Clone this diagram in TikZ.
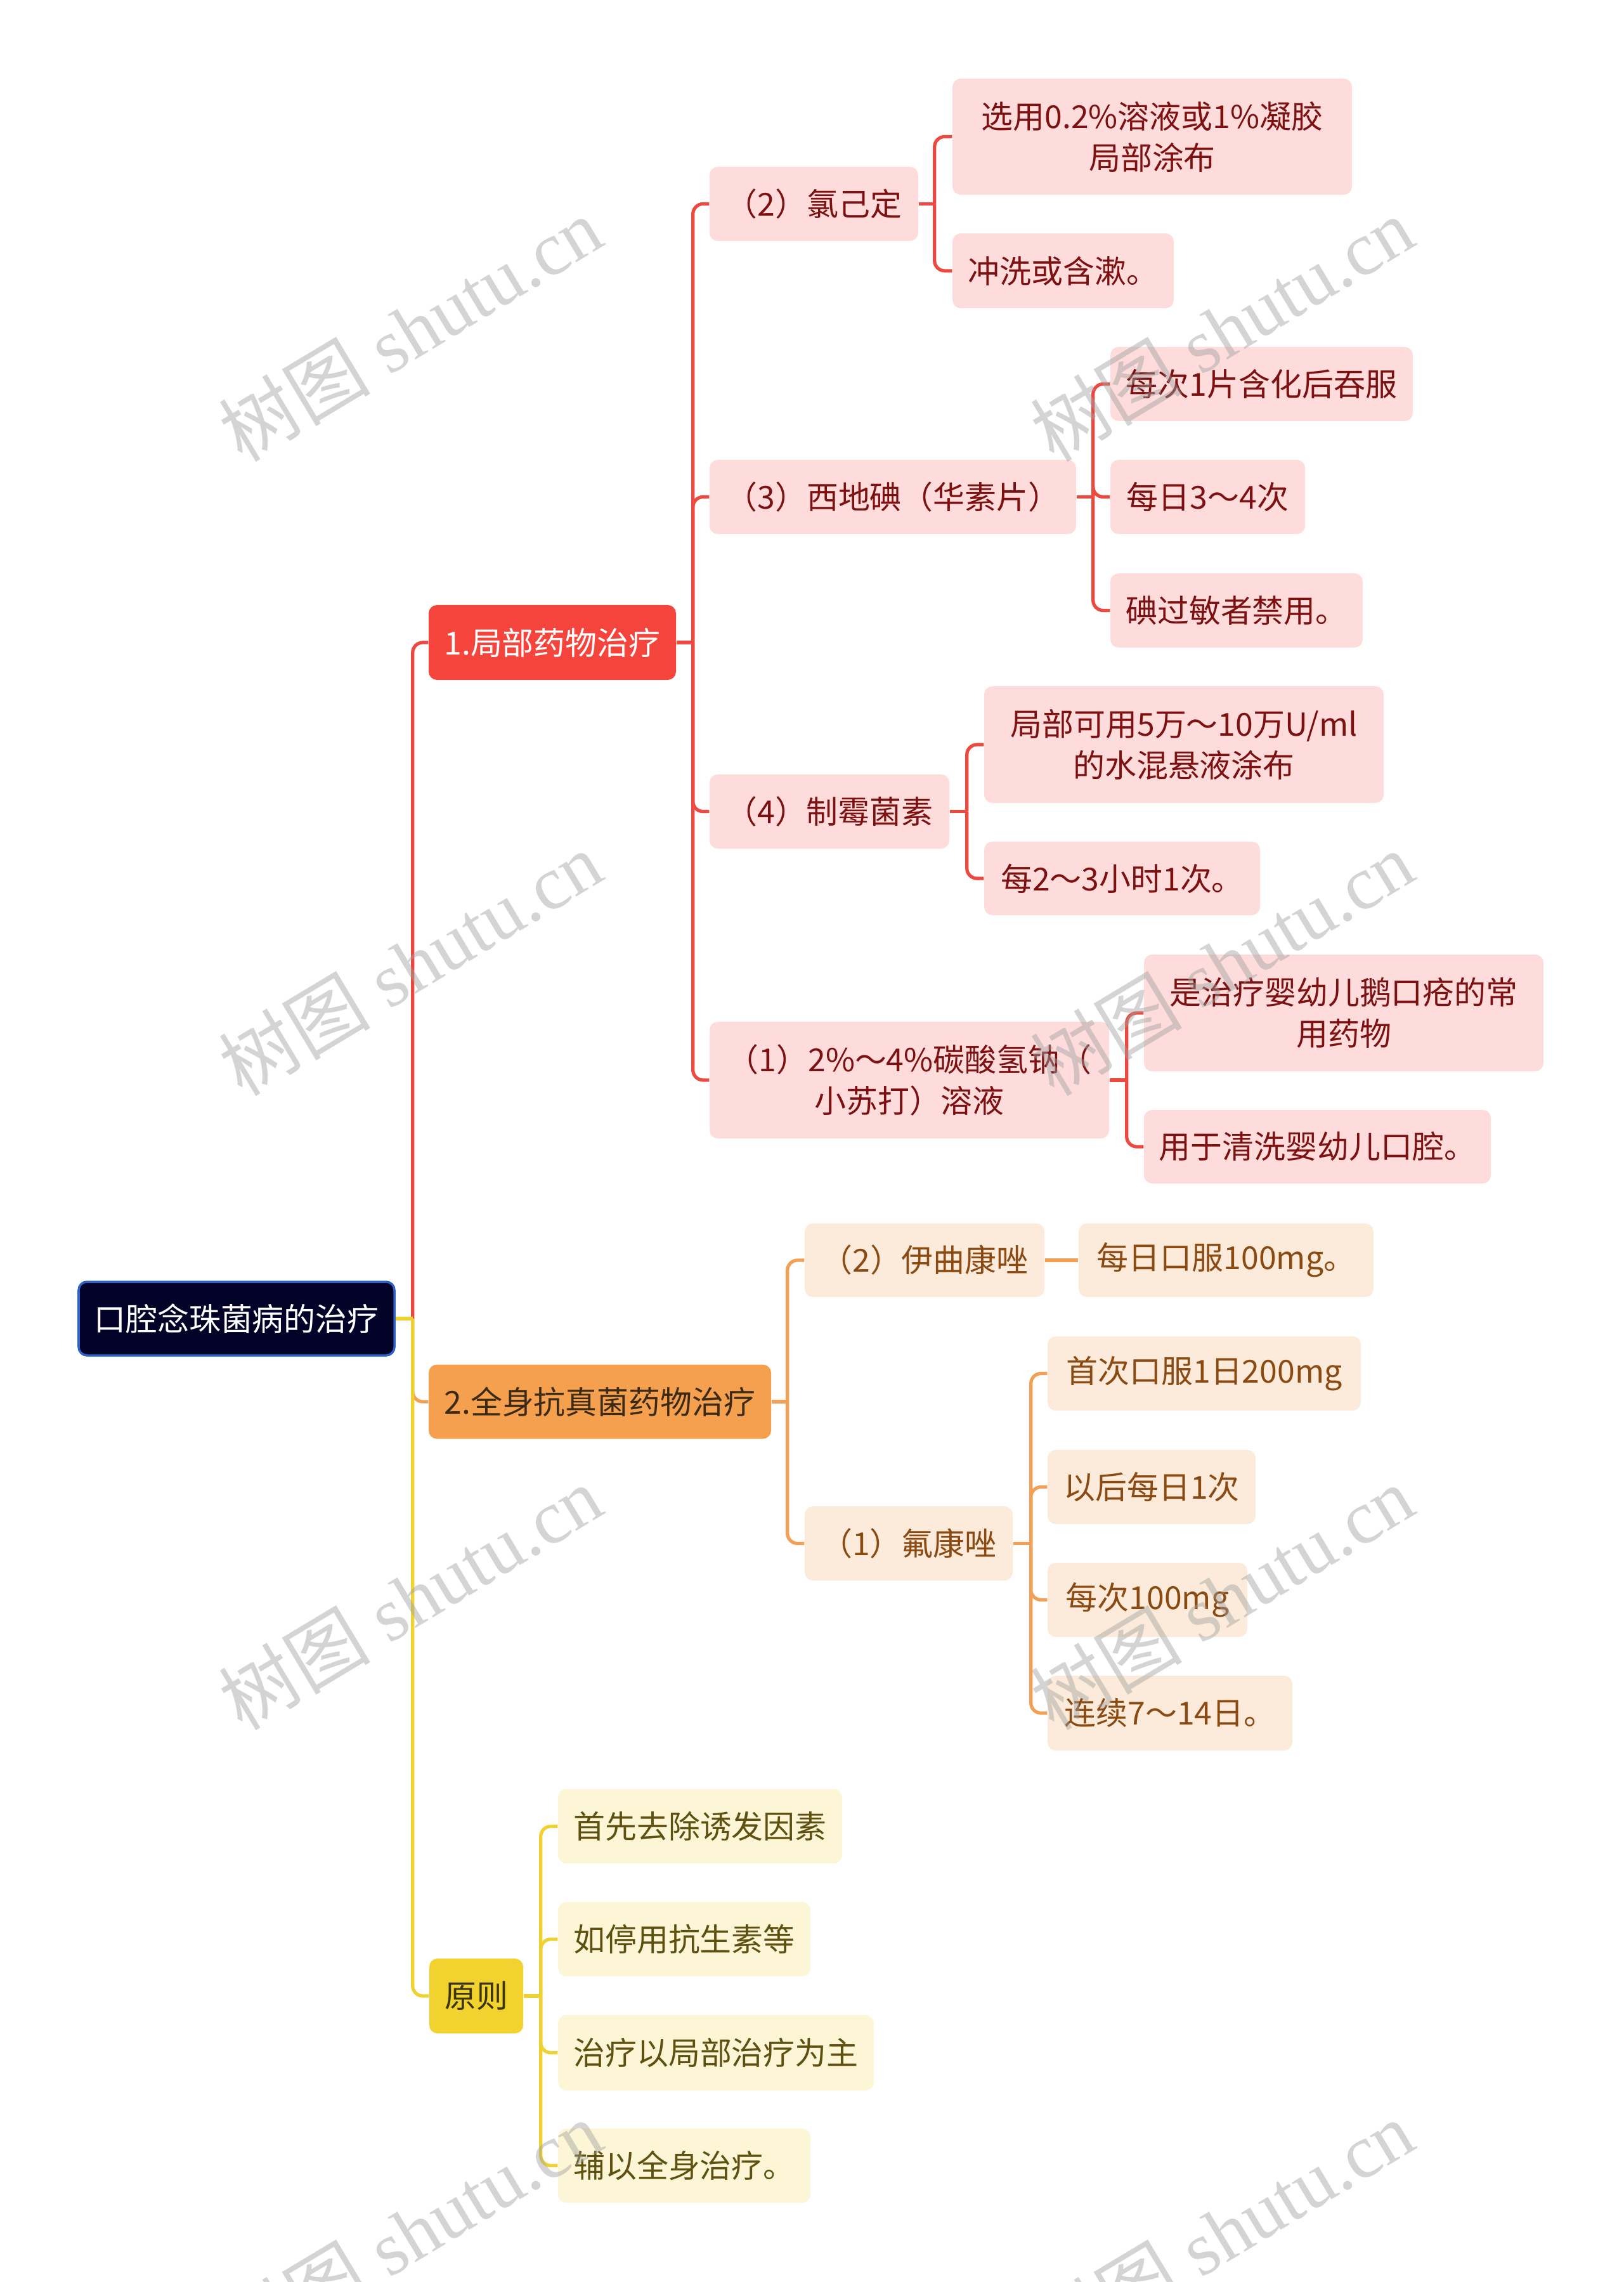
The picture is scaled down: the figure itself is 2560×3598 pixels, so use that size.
\documentclass[tikz,border=0pt]{standalone}
\usepackage{fontspec}
\setmainfont{Noto Sans CJK SC}
\newfontfamily\wmlatin{Liberation Serif}
\newfontfamily\wmcjk{Noto Sans CJK SC}
\definecolor{redF}{HTML}{F5443C}
\definecolor{redL}{HTML}{EC4A40}
\definecolor{pinkF}{HTML}{FDDCDB}
\definecolor{pinkT}{HTML}{7D1111}
\definecolor{orgF}{HTML}{F5A04F}
\definecolor{orgL}{HTML}{F2A056}
\definecolor{orgT}{HTML}{3B2A14}
\definecolor{lorgF}{HTML}{FCEBDA}
\definecolor{lorgT}{HTML}{8B4A12}
\definecolor{yelF}{HTML}{F2D22E}
\definecolor{yelL}{HTML}{EFD232}
\definecolor{yelT}{HTML}{3A3410}
\definecolor{lyelF}{HTML}{FCF6D6}
\definecolor{lyelT}{HTML}{5E5010}
\definecolor{rootF}{HTML}{03032A}
\definecolor{rootB}{HTML}{2D62C9}
\definecolor{wmC}{HTML}{A0A0A0}
\begin{document}
\begin{tikzpicture}[x=0.01cm,y=-0.01cm,
  box/.style={rounded corners=0.13cm, inner sep=0pt, align=center,
    font=\fontsize{14.2pt}{18.5pt}\selectfont},
  sz/.style 2 args={minimum width=#1*0.01cm, minimum height=#2*0.01cm},
  rootbox/.style={box, fill=rootF, draw=rootB, line width=1pt, text=white},
  lvA/.style={box, fill=redF, text=white},
  lvB/.style={box, fill=orgF, text=orgT},
  lvC/.style={box, fill=yelF, text=yelT},
  pk/.style={box, fill=pinkF, text=pinkT},
  lo/.style={box, fill=lorgF, text=lorgT},
  ly/.style={box, fill=lyelF, text=lyelT},
  conn/.style={line width=1.5pt, rounded corners=0.16cm},
  wm/.style={text=wmC, text opacity=0.45, rotate=31, inner sep=0pt},
]
\useasboundingbox (0,0) rectangle (2560,3598);
\clip (0,0) rectangle (2560,3598);

% root and level 1
\node[rootbox, sz={498}{116}] (root) at (373,2079) {口腔念珠菌病的治疗};
\node[lvA, sz={390}{118}] (n1) at (871,1013) {1.局部药物治疗};
\node[lvB, sz={540}{117}] (n2) at (946,2210) {2.全身抗真菌药物治疗};
\node[lvC, sz={148}{118}] (n3) at (751,3147) {原则};

% level 2 red
\node[pk, sz={329}{117}] (a2) at (1283.5,321.5) {（2）氯己定};
\node[pk, sz={578}{117}] (a3) at (1408,783.5) {（3）西地碘（华素片）};
\node[pk, sz={378}{117}] (a4) at (1308,1279.5) {（4）制霉菌素};
\node[pk, sz={630}{184}] (a1) at (1434,1703) {（1）2\%～4\%碳酸氢钠（\\小苏打）溶液};

% level 3 red
\node[pk, sz={630}{183}] (a2a) at (1817,215.5) {选用0.2\%溶液或1\%凝胶\\局部涂布};
\node[pk, sz={349}{118}] (a2b) at (1676.5,427) {冲洗或含漱。};
\node[pk, sz={477}{117}] (a3a) at (1989.5,605.5) {每次1片含化后吞服};
\node[pk, sz={307}{117}] (a3b) at (1904.5,783.5) {每日3～4次};
\node[pk, sz={398}{117}] (a3c) at (1950,962.5) {碘过敏者禁用。};
\node[pk, sz={630}{184}] (a4a) at (1867,1174) {局部可用5万～10万U/ml\\的水混悬液涂布};
\node[pk, sz={435}{116}] (a4b) at (1769.5,1385) {每2～3小时1次。};
\node[pk, sz={630}{184}] (a1a) at (2119,1597) {是治疗婴幼儿鹅口疮的常\\用药物};
\node[pk, sz={547}{116}] (a1b) at (2077.5,1808) {用于清洗婴幼儿口腔。};

% orange
\node[lo, sz={378}{116}] (b2) at (1458,1987) {（2）伊曲康唑};
\node[lo, sz={465}{116}] (b2a) at (1933.5,1987) {每日口服100mg。};
\node[lo, sz={328}{117}] (b1) at (1433,2433.5) {（1）氟康唑};
\node[lo, sz={494}{117}] (b1a) at (1899,2165.5) {首次口服1日200mg};
\node[lo, sz={328}{117}] (b1b) at (1816,2344.5) {以后每日1次};
\node[lo, sz={315}{117}] (b1c) at (1809.5,2522.5) {每次100mg};
\node[lo, sz={386}{118}] (b1d) at (1845,2701) {连续7～14日。};

% yellow
\node[ly, sz={448}{117}] (c1) at (1104,2879.5) {首先去除诱发因素};
\node[ly, sz={398}{117}] (c2) at (1079,3057.5) {如停用抗生素等};
\node[ly, sz={498}{119}] (c3) at (1129,3236.5) {治疗以局部治疗为主};
\node[ly, sz={398}{117}] (c4) at (1079,3414.5) {辅以全身治疗。};

% junction coordinates
\path (root.east) ++(27,0) coordinate (rj);
\path (n1.east) ++(26,0) coordinate (n1j);
\path (n2.east) ++(25,0) coordinate (n2j);
\path (n3.east) ++(27,0) coordinate (n3j);
\path (a2.east) ++(25,0) coordinate (a2j);
\path (a3.east) ++(26,0) coordinate (a3j);
\path (a4.east) ++(27,0) coordinate (a4j);
\path (a1.east) ++(27,0) coordinate (a1j);
\path (b1.east) ++(28,0) coordinate (b1j);

% trunk
\draw[conn, redL] (rj) |- (n1.west);
\draw[conn, orgL] (rj) |- (n2.west);
\draw[conn, yelL] (rj) |- (n3.west);
\draw[conn, yelL] (root.east) -- (rj);

% red branches
\draw[conn, redL] (n1.east) -- (n1j);
\foreach \c in {a2,a3,a4,a1} \draw[conn, redL] (n1j) |- (\c.west);
\draw[conn, redL] (a2.east) -- (a2j);
\foreach \c in {a2a,a2b} \draw[conn, redL] (a2j) |- (\c.west);
\draw[conn, redL] (a3.east) -- (a3j);
\foreach \c in {a3a,a3b,a3c} \draw[conn, redL] (a3j) |- (\c.west);
\draw[conn, redL] (a4.east) -- (a4j);
\foreach \c in {a4a,a4b} \draw[conn, redL] (a4j) |- (\c.west);
\draw[conn, redL] (a1.east) -- (a1j);
\foreach \c in {a1a,a1b} \draw[conn, redL] (a1j) |- (\c.west);

% orange branches
\draw[conn, orgL] (n2.east) -- (n2j);
\foreach \c in {b2,b1} \draw[conn, orgL] (n2j) |- (\c.west);
\draw[conn, orgL] (b2.east) -- (b2a.west);
\draw[conn, orgL] (b1.east) -- (b1j);
\foreach \c in {b1a,b1b,b1c,b1d} \draw[conn, orgL] (b1j) |- (\c.west);

% yellow branches
\draw[conn, yelL] (n3.east) -- (n3j);
\foreach \c in {c1,c2,c3,c4} \draw[conn, yelL] (n3j) |- (\c.west);

% watermarks
\foreach \i/\px/\py in {1/647/519, 2/1927/519, 3/647/1519, 4/1927/1519,
                        5/647/2519, 6/1927/2519, 7/647/3519, 8/1927/3519}
  \node[wm] (wm\i) at (\px,\py) {\fontsize{34pt}{40pt}\selectfont\wmcjk 树图\wmlatin{} shutu.cn};
\end{tikzpicture}
\end{document}
